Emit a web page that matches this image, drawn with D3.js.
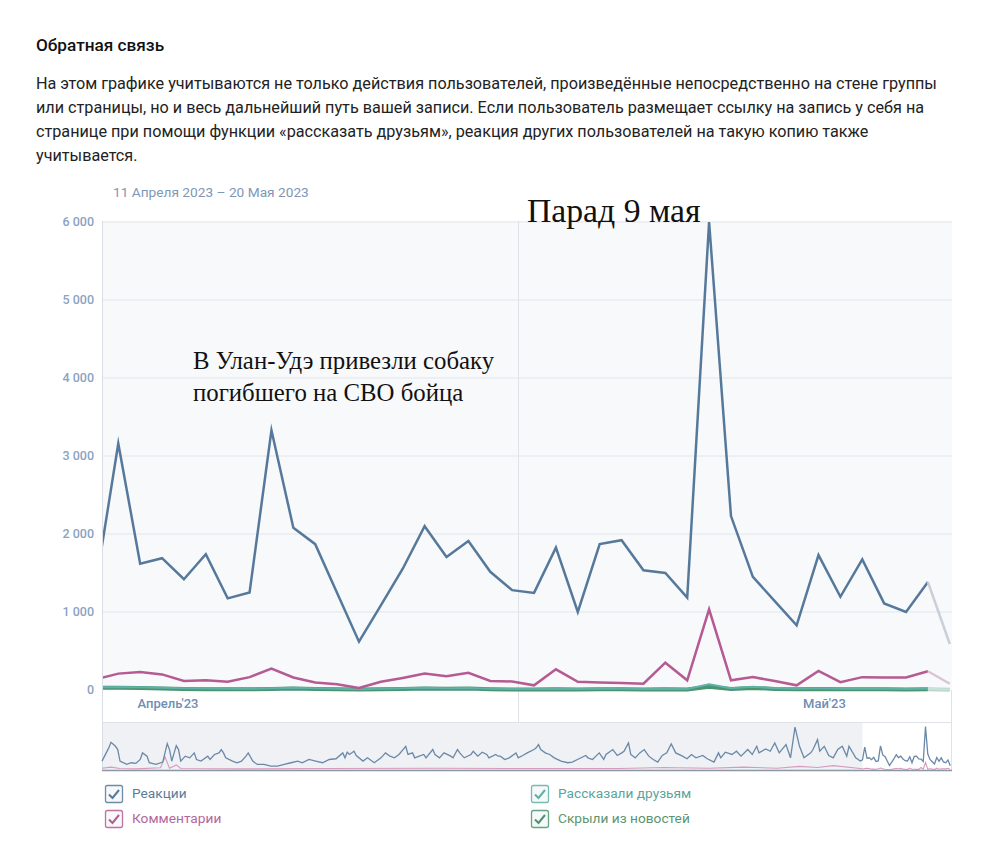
<!DOCTYPE html>
<html><head><meta charset="utf-8">
<script src="https://cdn.jsdelivr.net/npm/d3@7"></script>
<style>
body{margin:0;background:#fff;}
svg{display:block;}
</style></head><body>
<svg id="c" width="990" height="852"></svg>
<script>
// ---------- DATA ----------
const firstDay = "2023-04-11";
const lastDay = "2023-05-20";
const reactions = [1400, 3160, 1620, 1690, 1420, 1740, 1175, 1250, 3330, 2080, 1870, 1245, 620, 1085, 1555, 2100, 1705, 1910, 1515, 1280,
                   1245, 1825, 1000, 1870, 1920, 1535, 1500, 1185, 6000, 2230, 1450, 1140, 830, 1730, 1195, 1675, 1110, 1000, 1385, 590];
const comments  = [140, 210, 230, 200, 115, 125, 105, 165, 275, 160, 95, 75, 25, 105, 155, 210, 175, 220, 115, 110,
                   60, 265, 105, 95, 90, 80, 350, 125, 1035, 125, 165, 115, 60, 245, 100, 165, 160, 160, 240, 80];
const shares    = [35, 40, 35, 30, 22, 18, 15, 15, 22, 28, 22, 16, 10, 15, 22, 28, 24, 26, 16, 12,
                   12, 16, 12, 16, 16, 12, 16, 12, 75, 22, 42, 22, 16, 22, 16, 16, 16, 12, 16, 6];
const hidden    = [28, 30, 26, 20, 14, 10, 10, 10, 14, 20, 14, 10, 6, 10, 14, 20, 16, 20, 10, 6,
                   6, 10, 6, 10, 10, 6, 10, 6, 40, 14, 26, 14, 10, 14, 10, 10, 10, 6, 10, 4];
const yTicks = [0, 1000, 2000, 3000, 4000, 5000, 6000];
const monthLabels = ["Апрель'23", "Май'23"];
const monthLabelDates = ["2023-04-14T06:30", "2023-05-14T06:30"];
const dividerDate = "2023-04-30T06:30";
const seriesNames = ["Реакции", "Комментарии", "Рассказали друзьям", "Скрыли из новостей"];
const seriesColors = ["#56799b", "#b55a92", "#5fb0a5", "#4a9470"];
const fadedColors = ["#c9d0d9", "#dcc5d2", "#c6e0dc", "#bcd6c8"];
const legendTextColors = ["#5b7b9c", "#b5679c", "#5ba39d", "#5c9570"];

// overview (navigator) – day offsets from 2022-05-08 and readings
const navDays = [0,3,4,6,7,8,11,13,15,17,18,20,21,24,27,28,29,30,31,33,34,35,37,39,41,42,44,47,48,50,52,53,54,55,58,60,62,64,65,67,69,72,75,78,81,84,87,89,92,95,98,101,104,107,108,109,110,112,113,116,118,121,124,126,128,130,132,135,136,138,139,141,143,144,147,148,150,152,155,156,158,159,161,164,165,167,169,171,172,175,176,177,179,181,184,185,187,189,192,193,194,195,197,199,201,204,207,209,212,215,216,218,221,223,224,227,229,231,232,234,235,237,239,241,243,245,247,249,251,253,255,258,260,262,264,267,269,272,274,275,277,280,282,284,287,289,291,292,295,297,299,301,304,306,308,310,312,315,316,318,319,321,323,325,327,329,331,332,335,337];
const navReactions = [1230,3050,3820,3270,2820,1230,770,1000,910,1450,2360,1910,1000,770,1090,2360,3640,2820,1230,3360,2820,1230,1910,1680,2360,1450,1230,1910,1450,2140,2360,2820,2360,1680,1230,1000,1230,1910,2360,1230,770,770,545,545,770,1000,1230,1000,1450,1230,1000,1450,1550,2360,1680,2450,2140,2590,2000,1230,1680,1000,1680,2360,1910,1680,2140,3270,2140,2360,1680,1910,2140,1680,2820,2140,1680,2360,1910,1680,2820,2360,1680,2140,2590,1910,2450,2140,1680,2140,1910,1910,1450,1680,2360,1680,2000,2360,2820,3050,3500,2820,2360,2140,1680,1230,1000,1090,1550,2000,1680,1450,2360,1450,2140,2820,2000,2360,2590,3730,2140,1680,2360,2820,1910,1450,1090,2000,2360,3590,2360,1910,1550,2140,1680,2000,1550,1090,2360,1680,2450,2140,2590,1910,2820,2140,3270,2360,2910,2590,3730,2360,3500,1680,5910,3270,1680,2360,2820,4180,2590,3270,2000,1680,2820,3270,1910,3270,1680,1230];
const navCommentDays = [0,4,8,15,26,28,30,33,35,60,100,150,180,230,250,255,270,285,300,310,318,325,337];
const navComments    = [250,400,200,150,300,1800,250,700,200,150,200,250,200,200,350,300,250,400,250,500,350,600,200];
const navStartOffset = 338; // first main-chart day within the overview

// ---------- SETUP ----------
const svg = d3.select("#c");
const parseDay = d3.timeParse("%Y-%m-%d");
const days = d3.timeDay.range(parseDay(firstDay), d3.timeDay.offset(parseDay(firstDay), reactions.length));
const fmt = d3.formatLocale({decimal: ",", thousands: " ", grouping: [3], currency: ["", ""]}).format(",");

const plotL = 102, plotR = 952, plotT = 221, plotB = 690;
const x = d3.scaleTime().domain([parseDay(firstDay), parseDay(lastDay)]).range([96.4, 949.8]);
const y = d3.scaleLinear().domain([0, 6000]).range([690, 222]);

// ---------- HEADER TEXT ----------
svg.append("text").attr("x", 36).attr("y", 51)
  .style("font", "500 17.2px Roboto, sans-serif").attr("fill", "#111").text("Обратная связь");
const para = [
  "На этом графике учитываются не только действия пользователей, произведённые непосредственно на стене группы",
  "или страницы, но и весь дальнейший путь вашей записи. Если пользователь размещает ссылку на запись у себя на",
  "странице при помощи функции «рассказать друзьям», реакция других пользователей на такую копию также",
  "учитывается."
];
svg.append("g").selectAll("text").data(para).join("text")
  .attr("x", 36).attr("y", (d, i) => 89 + i * 24)
  .style("font", "400 16.2px Roboto, sans-serif").attr("fill", "#222").text(d => d);

svg.append("text").attr("x", 113).attr("y", 197)
  .style("font", "400 13.7px Roboto, sans-serif").attr("fill", "#7f97b6")
  .text("11 Апреля 2023 – 20 Мая 2023");

// ---------- PLOT BACKGROUND ----------
svg.append("rect").attr("x", plotL).attr("y", plotT).attr("width", plotR - plotL).attr("height", plotB - plotT)
  .attr("fill", "#f8f9fb");

// grid
svg.append("g").selectAll("line").data(yTicks.filter(d => d > 0)).join("line")
  .attr("x1", plotL).attr("x2", plotR).attr("y1", d => y(d)).attr("y2", d => y(d))
  .attr("stroke", "#e2e5e9").attr("stroke-width", 1);

// y labels
svg.append("g").selectAll("text").data(yTicks).join("text")
  .attr("x", 94).attr("y", d => y(d) + 4).attr("text-anchor", "end")
  .style("font", "500 12.5px Roboto, sans-serif").attr("fill", "#8ba3bf").text(d => fmt(d));

// vertical divider
const dv = Math.round(x(new Date(dividerDate))) + 0.5;
svg.append("line").attr("x1", dv).attr("x2", dv).attr("y1", plotT).attr("y2", 722)
  .attr("stroke", "#dfe3e8");

// frame lines
svg.append("line").attr("x1", plotL + 0.5).attr("x2", plotL + 0.5).attr("y1", plotT).attr("y2", 771).attr("stroke", "#d9dee4");
svg.append("line").attr("x1", plotR - 0.5).attr("x2", plotR - 0.5).attr("y1", 690).attr("y2", 771).attr("stroke", "#dfe3e8");
svg.append("line").attr("x1", plotL).attr("x2", plotR).attr("y1", 722.5).attr("y2", 722.5).attr("stroke", "#dfe3e8");

// month labels
svg.append("g").selectAll("text").data(monthLabels).join("text")
  .attr("x", (d, i) => x(new Date(monthLabelDates[i]))).attr("y", 708).attr("text-anchor", "middle")
  .style("font", "500 13px Roboto, sans-serif").attr("fill", "#6f8eb2").text(d => d);

// ---------- LINES ----------
svg.append("clipPath").attr("id", "clip").append("rect")
  .attr("x", plotL + 1).attr("y", 210).attr("width", plotR - plotL - 1).attr("height", 490);
const g = svg.append("g").attr("clip-path", "url(#clip)");
const seriesData = [reactions, comments, shares, hidden];
const widths = [2.5, 2.5, 2, 4];
const drawOrder = [3, 2, 1, 0];
const n = reactions.length;
drawOrder.forEach(k => {
  const vals = seriesData[k];
  const pts = vals.map((v, i) => [x(days[i]), y(v)]);
  g.append("path").attr("d", d3.line()(pts.slice(0, n - 1))).attr("fill", "none")
    .attr("stroke", seriesColors[k]).attr("stroke-width", widths[k]).attr("stroke-linejoin", "miter").attr("stroke-miterlimit", 10);
  g.append("path").attr("d", d3.line()(pts.slice(n - 2))).attr("fill", "none")
    .attr("stroke", fadedColors[k]).attr("stroke-width", widths[k]);
});

// ---------- NAVIGATOR ----------
const navT = 723, navB = 770;
const nx = d3.scaleLinear().domain([0, navStartOffset + n - 1]).range([102, 950.25]);
const ny = d3.scaleLinear().domain([0, 6000]).range([navB, 726.5]);
svg.append("rect").attr("x", plotL + 1).attr("y", navT).attr("width", nx(navStartOffset) - plotL - 1).attr("height", navB - navT)
  .attr("fill", "#eff1f4");
const navR = navDays.map((d, i) => [nx(d), ny(navReactions[i])])
  .concat(reactions.map((v, i) => [nx(navStartOffset + i), ny(v)]));
const navC = navCommentDays.map((d, i) => [nx(d), ny(navComments[i])])
  .concat(comments.map((v, i) => [nx(navStartOffset + i), ny(v)]));
const ng = svg.append("g");
ng.append("path").attr("d", d3.line()(navC)).attr("fill", "none").attr("stroke", "#d59bbd").attr("stroke-width", 1.1);
ng.append("path").attr("d", d3.line()(navR)).attr("fill", "none").attr("stroke", "#6a88a8").attr("stroke-width", 1.3);
svg.append("line").attr("x1", plotL).attr("x2", plotR).attr("y1", navB + 0.5).attr("y2", navB + 0.5)
  .attr("stroke", "#8d98a5").attr("stroke-width", 1.5);

// ---------- ANNOTATIONS ----------
const serif = "'Liberation Serif', 'Times New Roman', serif";
svg.append("text").attr("x", 527).attr("y", 222).style("font-family", serif).style("font-size", "33.7px")
  .attr("fill", "#111").text("Парад 9 мая");
svg.append("text").attr("x", 193).attr("y", 369).style("font-family", serif).style("font-size", "24.8px")
  .attr("fill", "#111").text("В Улан-Удэ привезли собаку");
svg.append("text").attr("x", 193).attr("y", 401).style("font-family", serif).style("font-size", "24.8px")
  .attr("fill", "#111").text("погибшего на СВО бойца");

// ---------- LEGEND ----------
const lg = svg.append("g");
seriesNames.forEach((name, k) => {
  const bx = k < 2 ? 105 : 531, by = k % 2 === 0 ? 785 : 810;
  lg.append("rect").attr("x", bx + 0.5).attr("y", by + 0.5).attr("width", 17).attr("height", 17).attr("rx", 2)
    .attr("fill", "#f6f8fa").attr("stroke", seriesColors[k]).attr("stroke-width", 1.3).attr("stroke-opacity", 0.85);
  lg.append("path").attr("d", `M${bx + 4},${by + 9.5} L${bx + 7.5},${by + 13} L${bx + 14},${by + 5}`)
    .attr("fill", "none").attr("stroke", seriesColors[k]).attr("stroke-width", 2);
  lg.append("text").attr("x", bx + 27).attr("y", by + 13).style("font", "400 13.7px Roboto, sans-serif")
    .attr("fill", legendTextColors[k]).text(name);
});
</script>
</body></html>
